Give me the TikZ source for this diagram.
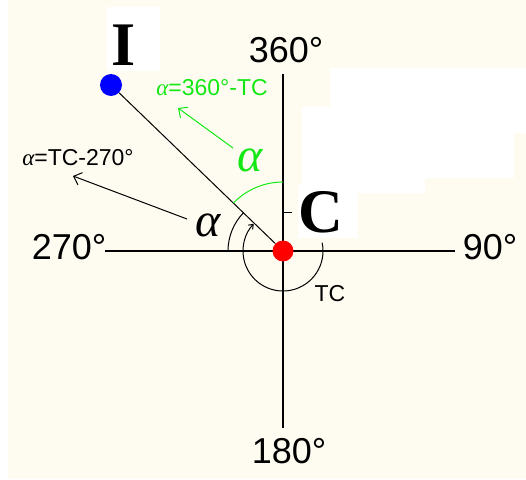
\documentclass[tikz,border=0pt]{standalone}
\usepackage{fontspec}
\setmainfont{Liberation Serif}
\setsansfont{Liberation Sans}
\usetikzlibrary{arrows.meta}
\definecolor{cream}{RGB}{254,252,241}
\definecolor{lime}{RGB}{20,232,20}
\begin{document}
\begin{tikzpicture}[x=1pt,y=1pt,
  axis/.style={line width=1.4pt,black},
  ray/.style={line width=1pt,black},
  dot/.style={circle,inner sep=0pt,minimum size=#1},
  big/.style={font=\fontsize{62}{62}\selectfont\bfseries\rmfamily,inner sep=0pt},
  deg/.style={font=\fontsize{36}{36}\selectfont\sffamily,inner sep=0pt},
  small/.style={font=\fontsize{23}{23}\selectfont\sffamily,inner sep=0pt},
  greek/.style={font=\fontsize{48}{48}\selectfont\rmfamily\itshape,inner sep=0pt},
  hint/.style={-{Straight Barb[length=7pt,width=13pt]},line width=1pt},
  patch/.style={fill=white,draw=none}]
\useasboundingbox (-283,-228) rectangle (243,251);
\fill[white] (-283,-228) rectangle (243,251);
\fill[cream] (-275,-228) rectangle (243,251);
\fill[patch] (-176,244) rectangle (-123,180);
\fill[patch] (47,183) rectangle (243,144);
\fill[patch] (19,144) rectangle (243,118);
\fill[patch] (19,118) rectangle (231,73);
\fill[patch] (19,73) rectangle (142,58);
\fill[patch] (15,66) rectangle (75,13);
\draw[axis] (0,177) -- (0,-177);
\draw[axis] (-178,0) -- (172,0);
\node[deg] (n360) at (3,201) {360°};
\node[deg] (n270) at (-214,4) {270°};
\node[deg] (n90) at (207,4) {90°};
\node[deg] (n180) at (6,-200) {180°};
\node[dot=22pt,fill=blue] (I) at (-172,166) {};
\node[dot=21pt,fill=red] (C) at (0,0) {};
\draw[ray] (I) -- (C);
\node[big] (lI) at (-159,206) {I};
\node[big] (lC) at (38,39) {C};
\draw[ray] (0,39) -- (9,39);
\draw[lime,line width=1pt] (0,69) arc[start angle=90,end angle=136,radius=69];
\draw[ray] (-55,0) arc[start angle=180,end angle=136,radius=55];
\draw[ray,-{Straight Barb[length=4pt,width=6pt]}] (12:40) arc[start angle=12,end angle=-223,radius=40];
\node[greek,lime] (ag) at (-33,91) {α};
\node[greek] (ab) at (-75,26) {α};
\coordinate (gtip) at (-105,143);
\coordinate (btip) at (-210,75);
\draw[hint,lime] (-50,103) -- (gtip);
\draw[hint,black] (-96,32) -- (btip);
\node[small,lime] (fg) at (-71,163) {{\rmfamily\itshape α}=360°-TC};
\node[small] (fb) at (-205,93) {{\rmfamily\itshape α}=TC-270°};
\node[small] (tc) at (47,-43) {TC};
\end{tikzpicture}
\end{document}
